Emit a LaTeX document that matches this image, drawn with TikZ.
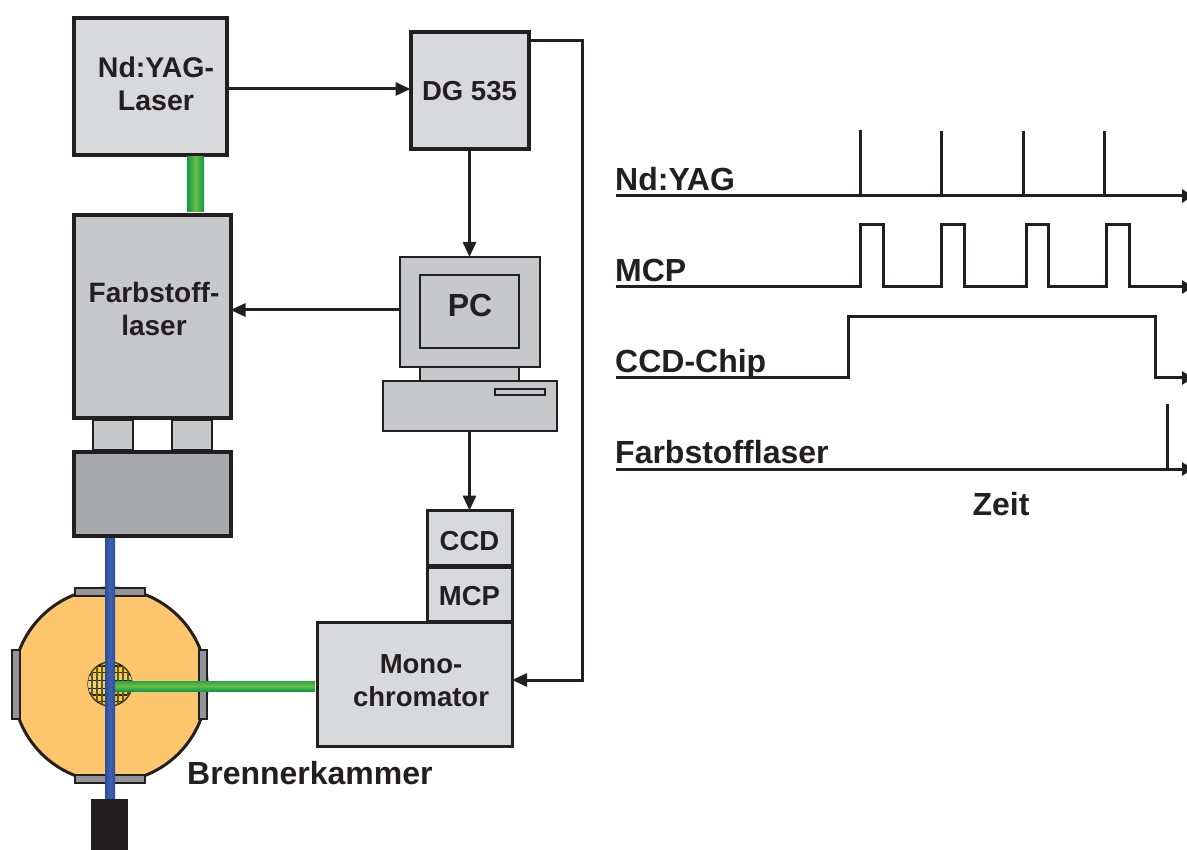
\documentclass[tikz,border=0pt]{standalone}
\usepackage{fontspec}
\setmainfont{Liberation Sans}
\usetikzlibrary{arrows.meta,calc}
\definecolor{ink}{HTML}{231F20}
\definecolor{boxlight}{HTML}{D8D9DA}
\definecolor{boxmid}{HTML}{C7C8CA}
\definecolor{boxdark}{HTML}{A7A9AC}
\definecolor{portgray}{HTML}{939598}
\definecolor{chamber}{HTML}{FDC66C}
\definecolor{gdark}{HTML}{0F9A49}
\definecolor{glight}{HTML}{6ABD45}
\definecolor{bdark}{HTML}{2B4C9B}
\definecolor{blight}{HTML}{4062AE}
\definecolor{flameyellow}{HTML}{F8CF1E}
\definecolor{flameband}{HTML}{E8CF7A}
\tikzset{
  lbl/.style={font=\fontsize{27.5}{32.5}\selectfont\bfseries,text=ink,align=center},
  unitbox/.style={draw=ink,line width=4pt,lbl,inner sep=0pt,outer sep=0pt},
  thinbox/.style={draw=ink,line width=2pt,fill=boxmid,lbl,inner sep=0pt,outer sep=0pt},
  link/.style={draw=ink,line width=3pt,-{Triangle[length=15pt,width=13pt]}},
  wave/.style={draw=ink,line width=3pt,miter limit=10},
  axis/.style={draw=ink,line width=3pt,-{Triangle[length=11pt,width=13pt]}},
  siglbl/.style={font=\fontsize{32}{36}\selectfont\bfseries,text=ink,inner sep=0pt,anchor=base west},
}
\begin{document}
\begin{tikzpicture}[x=1pt,y=-1pt]
\useasboundingbox (0,0) rectangle (1187,850);
\clip (0,0) rectangle (1187,850);

% --- combustion chamber
\node[circle,draw=ink,line width=3pt,fill=chamber,minimum size=194pt,inner sep=0pt,outer sep=0pt] (chamberc) at (110,685) {};
\foreach \n/\x/\y/\w/\h in {pt/110/592/70/8,pb/110/779/70/8,pl/16/684.5/8/69,pr/203/684.5/8/69}
  \node[draw=ink,line width=1.5pt,fill=portgray,minimum width=\w pt,minimum height=\h pt,inner sep=0pt,outer sep=0pt] (\n) at (\x,\y) {};
% flame ball
\node[circle,draw=ink,line width=1.2pt,fill=flameyellow,minimum size=44pt,inner sep=0pt] (flame) at (110,684) {};
\begin{scope}
  \clip (110,684) circle (22);
  \fill[flameband] (87,676) rectangle (133,692);
  \foreach \y/\w in {666/1.6,672/1,680/.6,688/.6,695/1.6,701/1}
    \draw[ink,line width=\w pt] (85,\y) -- (135,\y);
  \foreach \x in {92,97,102,118,123,128}
    \draw[ink!70!flameyellow,line width=1.2pt] (\x,660) -- (\x,708);
\end{scope}

% --- units
\node[unitbox,fill=boxlight,minimum width=153pt,minimum height=137pt] (yag) at (150,87) {};
\node[lbl,font=\fontsize{28.5}{33}\selectfont\bfseries] (yagtext) at (156,84) {Nd:YAG-\\Laser};
\node[unitbox,fill=boxlight,minimum width=118pt,minimum height=117pt] (dg) at (469.5,91) {DG 535};
\node[unitbox,fill=boxmid,minimum width=157pt,minimum height=203pt] (farb) at (152,317) {};
\node[lbl,font=\fontsize{28}{32.5}\selectfont\bfseries] (farbtext) at (154,309) {Farbstoff-\\laser};
\node[thinbox,minimum width=40pt,minimum height=30pt] (c1) at (112.5,435) {};
\node[thinbox,minimum width=40pt,minimum height=30pt] (c2) at (191.5,435) {};
\node[unitbox,fill=boxdark,minimum width=157pt,minimum height=84pt] (prism) at (152,493.5) {};
\node[unitbox,draw=ink,line width=3pt,fill=boxlight,minimum width=195pt,minimum height=124pt] (mono) at (414.5,684) {};
\node[lbl] (monotext) at (421,680.5) {Mono-\\chromator};
\node[unitbox,line width=3pt,fill=boxlight,minimum width=85pt,minimum height=55pt] (ccd) at (469.5,538) {};
\node[lbl] (ccdtext) at (469.5,541) {CCD};
\node[unitbox,line width=3pt,fill=boxlight,minimum width=85pt,minimum height=54pt] (mcp) at (469.5,594) {};
\node[lbl] (mcptext) at (469.5,596) {MCP};

% --- PC
\node[thinbox,minimum width=140pt,minimum height=110pt] (mon) at (469.5,312) {};
\node[thinbox,minimum width=99pt,minimum height=73pt] (scr) at (469.5,311.5) {};
\node[lbl,font=\fontsize{32}{36}\selectfont\bfseries] (pctext) at (470,305) {PC};
\node[thinbox,minimum width=99pt,minimum height=14pt] (neck) at (469.5,374) {};
\node[thinbox,minimum width=174pt,minimum height=50pt] (base) at (469.5,406) {};
\node[thinbox,line width=1.5pt,minimum width=50pt,minimum height=6pt] (slot) at (520,392) {};

% --- beams
\coordinate (g1a) at (187,157);
\coordinate (g1b) at (204,212);
\shade[left color=gdark,right color=gdark,middle color=glight] (g1a) rectangle (g1b);
\coordinate (g2a) at (114,681);
\coordinate (g2b) at (315,691);
\shade[top color=gdark!70!glight,bottom color=gdark,middle color=glight] (g2a) rectangle (g2b);
\coordinate (b1a) at (105,538);
\coordinate (b1b) at (115,800);
\shade[left color=bdark,right color=bdark,middle color=blight] (b1a) rectangle (b1b);
\node[fill=ink,minimum width=37pt,minimum height=52pt,inner sep=0pt,outer sep=0pt] (det) at (109.5,825) {};

% --- links
\coordinate (yo) at (yag.east |- 0,89);
\draw[link] (yo) -- (dg.west |- yo);
\draw[link] (dg.south) -- (mon.north);
\coordinate (po) at (mon.west |- 0,310);
\draw[link] (po) -- (farb.east |- po);
\draw[link] (base.south) -- (ccd.north);
\coordinate (dgo) at (dg.east |- 0,41);
\coordinate (mi) at (mono.east |- 0,680);
\draw[link] (dgo) -- (582,41) -- (582,680) -- (mi);

\node[lbl,anchor=base west,inner sep=0pt,font=\fontsize{32}{36}\selectfont\bfseries] (brenner) at (187,784) {Brennerkammer};

% --- timing
\node[siglbl] (t1) at (615,191) {Nd:YAG};
\node[siglbl] (t2) at (615,282) {MCP};
\node[siglbl] (t3) at (615,373) {CCD-Chip};
\node[siglbl] (t4) at (615,464) {Farbstofflaser};
\node[lbl,anchor=base,inner sep=0pt,font=\fontsize{32}{36}\selectfont\bfseries] (zeit) at (1001,515) {Zeit};

\coordinate (a1) at (616,196); \coordinate (e1) at (1193,196);
\coordinate (a2) at (616,287); \coordinate (e2) at (1193,287);
\coordinate (a3) at (616,378); \coordinate (e3) at (1193,378);
\coordinate (a4) at (616,469); \coordinate (e4) at (1193,469);
\draw[axis] (a1) -- (e1);
\foreach \x/\t in {860/130,941/131,1023/131,1104/131}
  \draw[wave] (\x,196) -- (\x,\t);
\draw[wave] (a2) -- (860,287) -- (860,225) -- (883,225) -- (883,287)
  -- (941,287) -- (941,225) -- (964,225) -- (964,287)
  -- (1026,287) -- (1026,225) -- (1048,225) -- (1048,287)
  -- (1106,287) -- (1106,225) -- (1129,225) -- (1129,287) -- (1180,287);
\draw[axis] (1170,287) -- (e2);
\draw[wave] (a3) -- (848,378) -- (848,317) -- (1155,317) -- (1155,378) -- (1180,378);
\draw[axis] (1170,378) -- (e3);
\draw[axis] (a4) -- (e4);
\draw[wave] (1167,469) -- (1167,404);
\end{tikzpicture}
\end{document}
